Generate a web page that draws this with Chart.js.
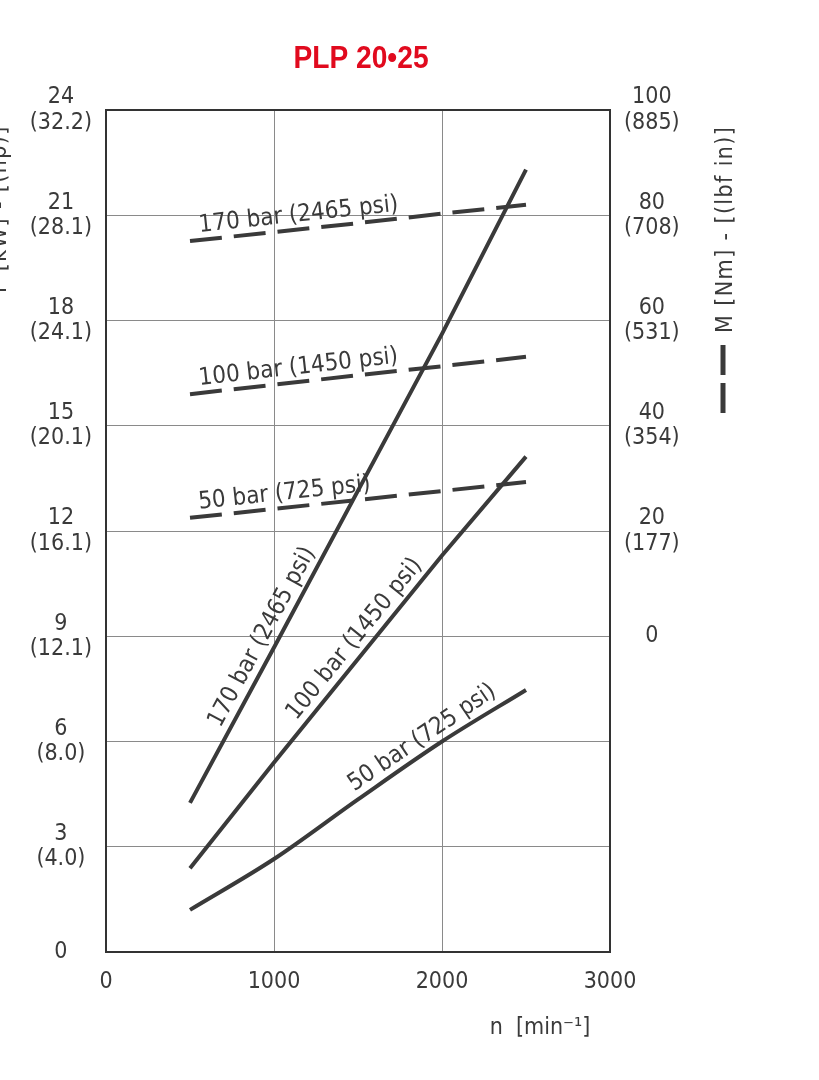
<!DOCTYPE html>
<html lang="en">
  <head>
    <meta charset="UTF-8" />
    <title>PLP 20•25</title>
    <script src="https://cdn.jsdelivr.net/npm/chart.js@4.4.1/dist/chart.umd.min.js"></script>
    <style>
      html, body { margin: 0; padding: 0; background: #fff; }
      #wrap { width: 819px; height: 1080px; }
    </style>
  </head>
  <body>
    <div id="wrap"><canvas id="chart" width="819" height="1080"></canvas></div>
    <script>
      // speed n [min-1]
      const speed = [500, 1000, 1500, 2000, 2500];

      // power P [kW] (solid lines, left axis)
      const power170 = [4.25, 8.68, 13.15, 17.62, 22.3];
      const power100 = [2.39, 5.4, 8.35, 11.3, 14.12];
      const power50 = [1.2, 2.65, 4.35, 6.0, 7.47];

      // torque M [Nm] (dashed lines, right axis)
      const torque170 = [75.1, 76.8, 78.5, 80.3, 82.0];
      const torque100 = [46.0, 47.8, 49.6, 51.3, 53.1];
      const torque50 = [22.5, 24.2, 25.9, 27.6, 29.3];

      // tick labels
      const speedTicks = [0, 1000, 2000, 3000];
      const powerTicks = [0, 3, 6, 9, 12, 15, 18, 21, 24];
      const powerHp = ['', '(4.0)', '(8.0)', '(12.1)', '(16.1)', '(20.1)', '(24.1)', '(28.1)', '(32.2)'];
      const torqueTicks = [0, 20, 40, 60, 80, 100];
      const torqueLbfIn = ['', '(177)', '(354)', '(531)', '(708)', '(885)'];

      const pressureLabels = ['170 bar (2465 psi)', '100 bar (1450 psi)', '50 bar (725 psi)'];

      const FONT = "'DejaVu Sans Condensed', 'DejaVu Sans', sans-serif";
      const INK = '#3a3a3a';
      const GRID = '#8a8a8a';

      let pts = (ys) => speed.map((x, i) => ({ x: x, y: ys[i] }));

      let solid = (ys) => ({
        data: pts(ys), yAxisID: 'y', borderColor: INK, borderWidth: 4,
        pointRadius: 0, fill: false
      });
      let dashed = (ys) => ({
        data: pts(ys), yAxisID: 'y2', borderColor: INK, borderWidth: 4,
        borderDash: [32, 12], borderCapStyle: 'butt', pointRadius: 0, fill: false
      });

      let datasets = [
        solid(power170), solid(power100),
        Object.assign(solid(power50), { cubicInterpolationMode: 'monotone' }),
        dashed(torque170), dashed(torque100), dashed(torque50)
      ];

      // [dataset index, rpm at text centre, text, baseline offset]
      let lineLabels = [
        [0, 1010, pressureLabels[0], 9],
        [1, 1550, pressureLabels[1], 9],
        [2, 1930, pressureLabels[2], 8],
        [3, 1155, pressureLabels[0], 8],
        [4, 1155, pressureLabels[1], 8],
        [5, 1071, pressureLabels[2], 8]
      ];

      let valueAt = (data, x) => {
        for (let i = 0; i < data.length - 1; i++) {
          if (x >= data[i].x && x <= data[i + 1].x) {
            let t = (x - data[i].x) / (data[i + 1].x - data[i].x);
            return data[i].y + t * (data[i + 1].y - data[i].y);
          }
        }
        return data[data.length - 1].y;
      };

      let decorations = {
        id: 'decorations',
        afterDraw(chart) {
          let ctx = chart.ctx;
          let area = chart.chartArea;
          let sx = chart.scales.x;

          // frame
          ctx.save();
          ctx.strokeStyle = '#333';
          ctx.lineWidth = 2;
          ctx.strokeRect(area.left, area.top, area.right - area.left, area.bottom - area.top);
          ctx.restore();

          // labels along the curves
          ctx.save();
          ctx.fillStyle = INK;
          ctx.font = '24px ' + FONT;
          ctx.textAlign = 'center';
          ctx.textBaseline = 'alphabetic';
          lineLabels.forEach(([di, rpm, text, off]) => {
            let ds = chart.data.datasets[di];
            let sy = chart.scales[ds.yAxisID];
            let px = sx.getPixelForValue(rpm);
            let py = sy.getPixelForValue(valueAt(ds.data, rpm));
            let x0 = sx.getPixelForValue(rpm - 100), y0 = sy.getPixelForValue(valueAt(ds.data, rpm - 100));
            let x1 = sx.getPixelForValue(rpm + 100), y1 = sy.getPixelForValue(valueAt(ds.data, rpm + 100));
            let a = Math.atan2(y1 - y0, x1 - x0);
            ctx.save();
            ctx.translate(px, py);
            ctx.rotate(a);
            ctx.fillText(text, 0, -off);
            ctx.restore();
          });
          ctx.restore();

          // title (squeezed a little to look condensed)
          ctx.save();
          ctx.fillStyle = '#e10a1e';
          ctx.font = "bold 32px 'Liberation Sans Narrow', 'Liberation Sans', sans-serif";
          ctx.textAlign = 'center';
          ctx.textBaseline = 'middle';
          ctx.translate(361, 59);
          ctx.scale(0.88, 1);
          ctx.fillText('PLP 20•25', 0, 0);
          ctx.restore();

          // axis titles
          ctx.save();
          ctx.fillStyle = INK;
          ctx.font = '23px ' + FONT;
          ctx.textBaseline = 'alphabetic';
          ctx.textAlign = 'center';
          ctx.fillText('n  [min⁻¹]', 540, 1034);

          ctx.textAlign = 'left';
          ctx.letterSpacing = '1.4px';
          ctx.save();
          ctx.translate(6, 293);
          ctx.rotate(-Math.PI / 2);
          ctx.fillText('P [kW] - [(hp)]', 0, 0);
          ctx.restore();

          ctx.save();
          ctx.translate(732, 333);
          ctx.rotate(-Math.PI / 2);
          ctx.fillText('M [Nm] - [(lbf in)]', 0, 0);
          ctx.restore();
          ctx.letterSpacing = '0px';

          // dashed key under the torque title
          ctx.strokeStyle = INK;
          ctx.lineWidth = 5;
          ctx.beginPath();
          ctx.moveTo(723, 345); ctx.lineTo(723, 375);
          ctx.moveTo(723, 383); ctx.lineTo(723, 413);
          ctx.stroke();
          ctx.restore();
        }
      };

      new Chart(document.getElementById('chart'), {
        type: 'line',
        data: { datasets: datasets },
        options: {
          responsive: false,
          animation: false,
          layout: { padding: { top: 110, left: 0, right: 0, bottom: 0 } },
          plugins: { legend: { display: false }, tooltip: { enabled: false } },
          scales: {
            x: {
              type: 'linear', min: 0, max: 3000,
              ticks: {
                stepSize: 1000, padding: 16, color: INK, font: { family: FONT, size: 23 },
                callback: (v) => speedTicks.includes(v) ? String(v) : ''
              },
              grid: { color: GRID, lineWidth: 1, drawTicks: false },
              border: { display: false },
              afterFit: (s) => { s.height = 128; }
            },
            y: {
              position: 'left', min: 0, max: 24,
              ticks: {
                stepSize: 3, crossAlign: 'center', padding: 14, color: INK,
                font: { family: FONT, size: 23, lineHeight: 1.1 },
                callback: (v) => {
                  let i = powerTicks.indexOf(v);
                  if (i < 0) return '';
                  return powerHp[i] ? [String(v), powerHp[i]] : String(v);
                }
              },
              grid: { color: GRID, lineWidth: 1, drawTicks: false },
              border: { display: false },
              afterFit: (s) => { s.width = 106; }
            },
            y2: {
              position: 'right', min: -60, max: 100,
              ticks: {
                stepSize: 20, crossAlign: 'center', padding: 14, color: INK,
                font: { family: FONT, size: 23, lineHeight: 1.1 },
                callback: (v) => {
                  let i = torqueTicks.indexOf(v);
                  if (i < 0) return '';
                  return torqueLbfIn[i] ? [String(v), torqueLbfIn[i]] : String(v);
                }
              },
              grid: { display: false, drawTicks: false },
              border: { display: false },
              afterFit: (s) => { s.width = 209; }
            }
          }
        },
        plugins: [decorations]
      });
    </script>
  </body>
</html>
